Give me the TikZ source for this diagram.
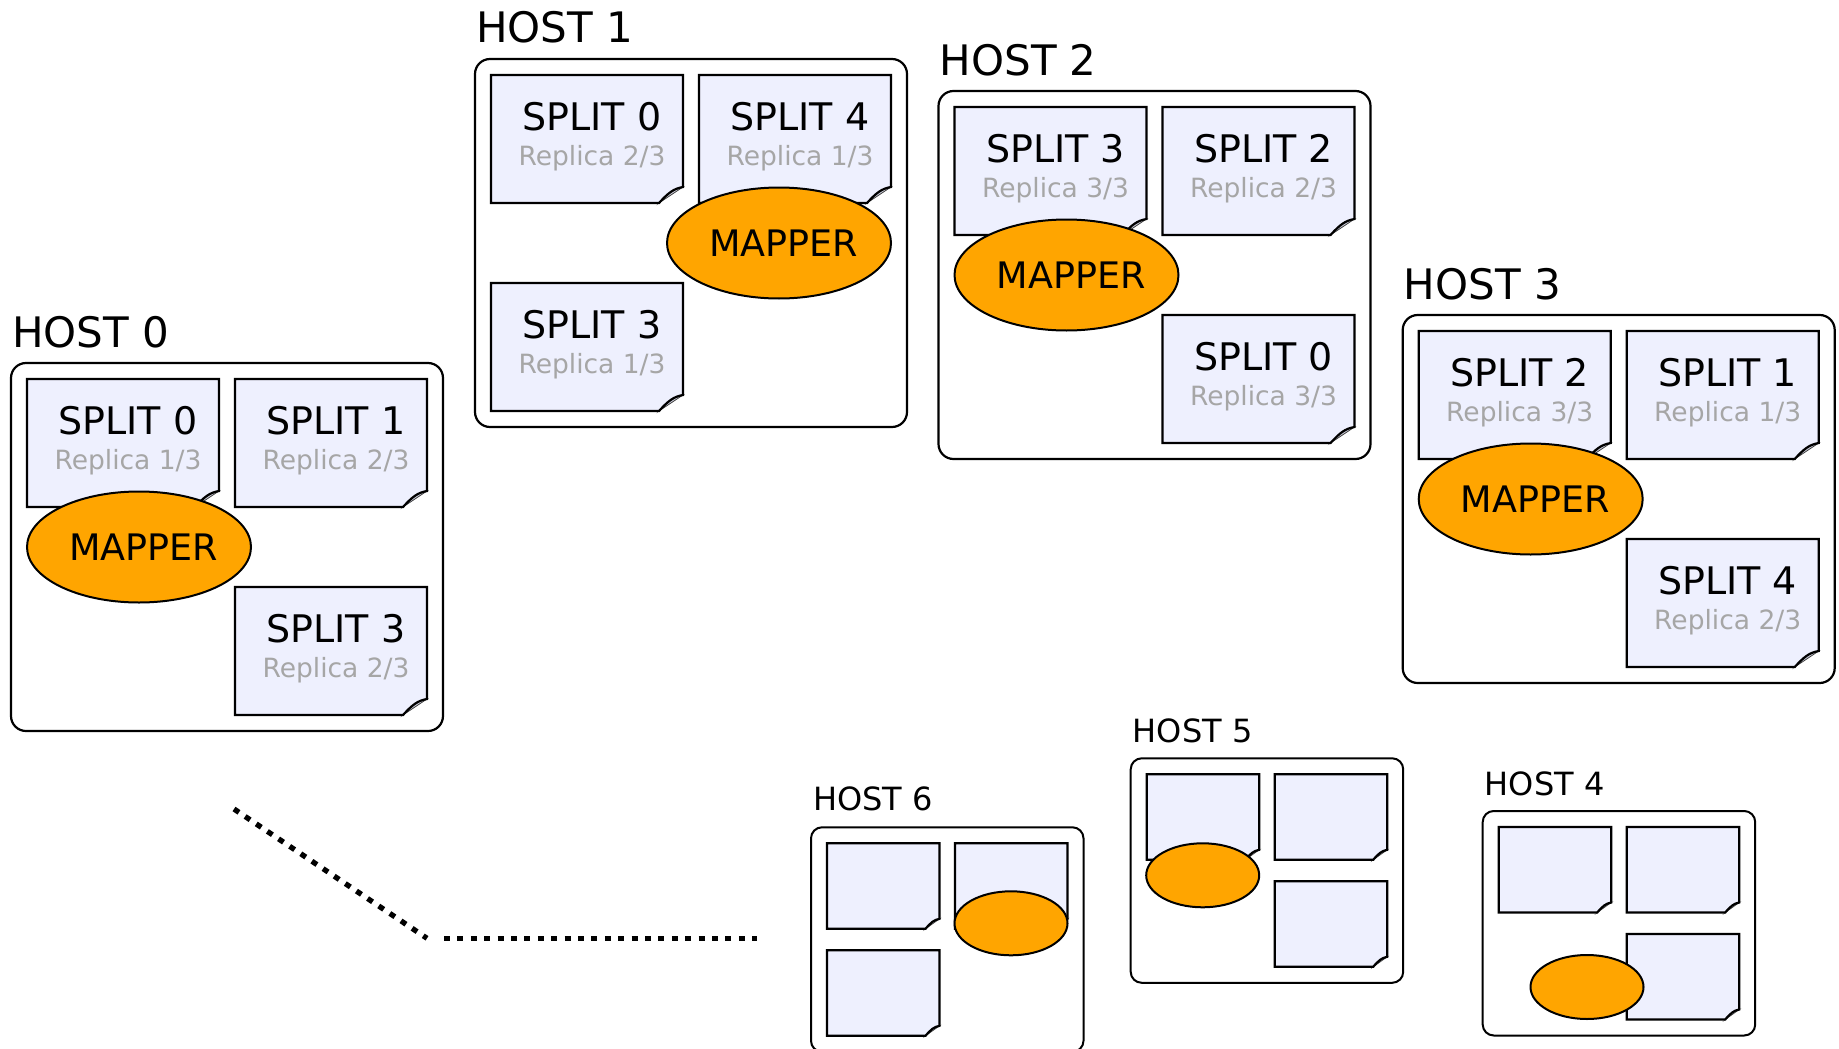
\documentclass[tikz,border=0pt]{standalone}
\usepackage{fontspec}
\setmainfont{DejaVu Sans}
\usetikzlibrary{shapes.geometric}
\definecolor{pagecol}{RGB}{238,240,254}
\definecolor{foldcol}{RGB}{200,201,214}
\definecolor{mappercol}{RGB}{255,165,0}
\definecolor{repcol}{RGB}{166,166,166}
\newcommand{\hostfont}{\fontsize{42}{50}\selectfont}
\newcommand{\smallhostfont}{\fontsize{32}{38}\selectfont}
\newcommand{\splitfont}{\fontsize{38}{45}\selectfont}
\newcommand{\repfont}{\fontsize{26.5}{32}\selectfont}
\newcommand{\mapfont}{\fontsize{36.5}{44}\selectfont}
\tikzset{
  hostbox/.style={draw=black, line width=2.2pt, rounded corners=15pt, inner sep=0pt, outer sep=0pt, rectangle},
  hostlbl/.style={anchor=base west, inner sep=0pt, font=\hostfont},
  smallhostlbl/.style={anchor=base west, inner sep=0pt, font=\smallhostfont},
  pagebox/.style={rectangle, inner sep=0pt, outer sep=0pt},
  pageline/.style={draw=black, line width=2.2pt, line join=miter},
  foldline/.style={fill=foldcol, draw=black!75, line width=0.8pt},
  splittxt/.style={anchor=base, inner sep=0pt, font=\splitfont},
  reptxt/.style={anchor=base, inner sep=0pt, font=\repfont, text=repcol},
  mapperbig/.style={ellipse, draw=black, line width=2pt, fill=mappercol, inner sep=0pt, minimum width=224pt, minimum height=111pt, font=\mapfont},
  mappersmall/.style={ellipse, draw=black, line width=2pt, fill=mappercol, inner sep=0pt, minimum width=113pt, minimum height=64pt},
  dotline/.style={draw=black, line width=5.3pt, dash pattern=on 6pt off 7.4pt}
}
% page with folded corner: x y w h foldx foldy
\newcommand{\docshape}[6]{%
  \pgfmathsetmacro{\qqL}{#1}\pgfmathsetmacro{\qqT}{#2}%
  \pgfmathsetmacro{\qqR}{#1+#3}\pgfmathsetmacro{\qqB}{#2+#4}%
  \pgfmathsetmacro{\qqBf}{\qqB-#6}\pgfmathsetmacro{\qqRf}{\qqR-#5}%
  \pgfmathsetmacro{\qqcxa}{\qqR-0.4*#5}\pgfmathsetmacro{\qqcya}{\qqB-0.9*#6}%
  \pgfmathsetmacro{\qqcxb}{\qqR-0.62*#5}\pgfmathsetmacro{\qqcyb}{\qqB-0.62*#6}%
  \fill[pagecol] (\qqL,\qqT) -- (\qqR,\qqT) -- (\qqR,\qqBf) .. controls (\qqcxa,\qqcya) and (\qqcxb,\qqcyb) .. (\qqRf,\qqB) -- (\qqL,\qqB) -- cycle;%
  \filldraw[foldline] (\qqR,\qqBf) .. controls (\qqcxa,\qqcya) and (\qqcxb,\qqcyb) .. (\qqRf,\qqB) -- cycle;%
  \draw[pageline] (\qqL,\qqT) -- (\qqR,\qqT) -- (\qqR,\qqBf) .. controls (\qqcxa,\qqcya) and (\qqcxb,\qqcyb) .. (\qqRf,\qqB) -- (\qqL,\qqB) -- cycle;%
}
% big split: name hostx hosty dx dy number replica
\newcommand{\bigsplit}[7]{%
  \pgfmathsetmacro{\qqX}{#2+#4}\pgfmathsetmacro{\qqY}{#3+#5}%
  \docshape{\qqX}{\qqY}{192}{128}{24}{16}%
  \node[pagebox, minimum width=192pt, minimum height=128pt] (#1) at ({\qqX+96},{\qqY+64}) {};%
  \node[splittxt] (#1t) at ({\qqX+101},{\qqY+55.5}) {SPLIT #6};%
  \node[reptxt] (#1r) at ({\qqX+101},{\qqY+90.5}) {Replica #7};%
}
% small split: name hostx hosty dx dy
\newcommand{\smallsplit}[5]{%
  \pgfmathsetmacro{\qqX}{#2+#4}\pgfmathsetmacro{\qqY}{#3+#5}%
  \docshape{\qqX}{\qqY}{112.5}{85.5}{14}{10}%
  \node[pagebox, minimum width=112.5pt, minimum height=85.5pt] (#1) at ({\qqX+56.25},{\qqY+42.75}) {};%
}
\begin{document}
\begin{tikzpicture}[x=1pt,y=-1pt]
\useasboundingbox (0,0) rectangle (1839,1049);
\clip (0,0) rectangle (1839,1049);

% ---------- HOST 0 ----------
\node[hostbox, minimum width=432pt, minimum height=368pt] (host0) at (11+216,363+184) {};
\node[hostlbl] (host0l) at ([xshift=1pt,yshift=16pt]host0.north west) {HOST 0};
\bigsplit{h0a}{11}{363}{16}{16}{0}{1/3}
\bigsplit{h0b}{11}{363}{224}{16}{1}{2/3}
\bigsplit{h0d}{11}{363}{224}{224}{3}{2/3}
\node[mapperbig] (h0m) at (11+128,363+184) {\hspace*{9.4pt}MAPPER};

% ---------- HOST 1 ----------
\node[hostbox, minimum width=432pt, minimum height=368pt] (host1) at (475+216,59+184) {};
\node[hostlbl] (host1l) at ([xshift=1pt,yshift=16pt]host1.north west) {HOST 1};
\bigsplit{h1a}{475}{59}{16}{16}{0}{2/3}
\bigsplit{h1b}{475}{59}{224}{16}{4}{1/3}
\bigsplit{h1c}{475}{59}{16}{224}{3}{1/3}
\node[mapperbig] (h1m) at (475+304,59+184) {\hspace*{9.4pt}MAPPER};

% ---------- HOST 2 ----------
\node[hostbox, minimum width=432pt, minimum height=368pt] (host2) at (938.5+216,91+184) {};
\node[hostlbl] (host2l) at ([xshift=1pt,yshift=16pt]host2.north west) {HOST 2};
\bigsplit{h2a}{938.5}{91}{16}{16}{3}{3/3}
\bigsplit{h2b}{938.5}{91}{224}{16}{2}{2/3}
\bigsplit{h2d}{938.5}{91}{224}{224}{0}{3/3}
\node[mapperbig] (h2m) at (938.5+128,91+184) {\hspace*{9.4pt}MAPPER};

% ---------- HOST 3 ----------
\node[hostbox, minimum width=432pt, minimum height=368pt] (host3) at (1402.7+216,315+184) {};
\node[hostlbl] (host3l) at ([xshift=1pt,yshift=16pt]host3.north west) {HOST 3};
\bigsplit{h3a}{1402.7}{315}{16}{16}{2}{3/3}
\bigsplit{h3b}{1402.7}{315}{224}{16}{1}{1/3}
\bigsplit{h3d}{1402.7}{315}{224}{224}{4}{2/3}
\node[mapperbig] (h3m) at (1402.7+128,315+184) {\hspace*{9.4pt}MAPPER};

% ---------- HOST 6 ----------
\node[hostbox, line width=2pt, rounded corners=11pt, minimum width=272.5pt, minimum height=224.5pt] (host6) at (811+136.25,827.3+112.25) {};
\node[smallhostlbl] (host6l) at ([xshift=2pt,yshift=16.5pt]host6.north west) {HOST 6};
\smallsplit{h6a}{811}{827.3}{16}{16}
\smallsplit{h6b}{811}{827.3}{144}{16}
\smallsplit{h6c}{811}{827.3}{16}{123}
\node[mappersmall] (h6m) at (811+200,827.3+96) {};

% ---------- HOST 5 ----------
\node[hostbox, line width=2pt, rounded corners=11pt, minimum width=272.5pt, minimum height=224.5pt] (host5) at (1130.7+136.25,758.3+112.25) {};
\node[smallhostlbl] (host5l) at ([xshift=2pt,yshift=16pt]host5.north west) {HOST 5};
\smallsplit{h5a}{1130.7}{758.3}{16}{16}
\smallsplit{h5b}{1130.7}{758.3}{144}{16}
\smallsplit{h5d}{1130.7}{758.3}{144}{123}
\node[mappersmall] (h5m) at (1130.7+72,758.3+117) {};

% ---------- HOST 4 ----------
\node[hostbox, line width=2pt, rounded corners=11pt, minimum width=272.5pt, minimum height=224.5pt] (host4) at (1482.7+136.25,811+112.25) {};
\node[smallhostlbl] (host4l) at ([xshift=2pt,yshift=16pt]host4.north west) {HOST 4};
\smallsplit{h4a}{1482.7}{811}{16}{16}
\smallsplit{h4b}{1482.7}{811}{144}{16}
\smallsplit{h4d}{1482.7}{811}{144}{123}
\node[mappersmall] (h4m) at (1482.7+104.3,811+176) {};

% ---------- dotted continuation ----------
\coordinate (dA) at (234,809);
\coordinate (dB) at (427,938.3);
\coordinate (dC) at (444,938.3);
\coordinate (dD) at (757,938.3);
\draw[dotline] (dA) -- (dB);
\draw[dotline] (dC) -- (dD);
\end{tikzpicture}
\end{document}
